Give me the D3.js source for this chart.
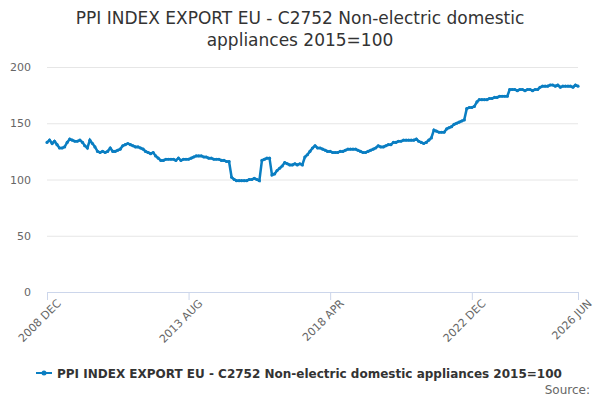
<!DOCTYPE html>
<html><head><meta charset="utf-8">
<script src="https://cdn.jsdelivr.net/npm/d3@7"></script>
<style>body{margin:0;background:#fff;font-family:"DejaVu Sans",sans-serif;}</style>
</head><body><div id="chart"></div>
<script>
// monthly index values, Dec 2008 .. Jun 2026
const startMonth = "2008-12";
const values = [133,
  135,132,134,131,128,128,129,133,136,135,134,134,
  135,133,130,128,135,132,129,125,124,125,124,125,
  128,125,125,126,127,130,131,132,131,130,129,129,
  128,127,125,124,123,124,121,119,117,117,118,118,
  118,118,117,119,117,118,118,118,119,120,121,121,
  121,120,120,119,119,118,118,118,117,117,116,116,
  102,100,99,99,99,99,99,100,100,101,100,99,
  117,118,119,119,104,105,108,110,112,115,114,113,
  113,114,113,114,113,120,122,125,128,130,128,128,
  127,126,125,125,124,124,124,125,125,126,127,127,
  127,127,126,125,124,124,125,126,127,128,130,129,
  129,130,131,131,133,133,134,134,135,135,135,135,
  135,136,134,133,132,133,135,137,144,143,142,142,
  142,145,146,147,149,150,151,152,153,163,164,164,
  165,169,171,171,171,171,172,172,173,173,174,174,
  174,174,180,180,180,179,180,180,179,180,180,179,
  180,180,182,183,183,183,184,184,183,184,182,183,
  183,183,183,182,184,183];
const tickLabels = ["2008 DEC","2013 AUG","2018 APR","2022 DEC","2026 JUN"];
const yTicks = [0,50,100,150,200];
const seriesName = "PPI INDEX EXPORT EU - C2752 Non-electric domestic appliances 2015=100";

const parse = d3.timeParse("%Y-%m");
const t0 = parse(startMonth);
const data = values.map((v,i) => ({date: d3.timeMonth.offset(t0,i), value: v}));
const tickDates = tickLabels.map(s => d3.timeParse("%Y %b")(s.slice(0,6)+s.slice(6).toLowerCase()));

const W = 600, H = 400;
const svg = d3.select("#chart").append("svg").attr("width",W).attr("height",H);
const x = d3.scaleTime().domain([tickDates[0], tickDates[4]]).range([47,578]);
const y = d3.scaleLinear().domain([0,200]).range([292,67]);

svg.append("text").attr("x",300).attr("y",24).attr("text-anchor","middle")
  .attr("font-size",17).attr("fill","#333").text("PPI INDEX EXPORT EU - C2752 Non-electric domestic");
svg.append("text").attr("x",300).attr("y",46).attr("text-anchor","middle")
  .attr("font-size",17).attr("fill","#333").text("appliances 2015=100");

const yAxis = svg.append("g").attr("transform","translate(47,0)")
  .call(d3.axisLeft(y).tickValues(yTicks).tickSize(-531).tickPadding(16));
yAxis.select(".domain").remove();
yAxis.selectAll("line").attr("stroke","#e6e6e6");
yAxis.selectAll("text").attr("font-size",11).attr("fill","#666").attr("font-family","DejaVu Sans");

const xAxis = svg.append("g").attr("transform","translate(0,292)")
  .call(d3.axisBottom(x).tickValues(tickDates).tickFormat((d,i)=>tickLabels[i]).tickSize(8));
xAxis.select(".domain").attr("stroke","#ccd6eb");
xAxis.selectAll("line").attr("stroke","#ccd6eb");
xAxis.selectAll("text").attr("font-size",11).attr("fill","#666").attr("font-family","DejaVu Sans")
  .attr("text-anchor","end").attr("dy","0.3em").attr("transform","translate(4,2) rotate(-45)");

svg.append("path").datum(data).attr("fill","none").attr("stroke","#0a7ec2").attr("stroke-width",2.5)
  .attr("d", d3.line().x(d=>x(d.date)).y(d=>y(d.value)));
svg.append("g").selectAll("circle").data(data).join("circle")
  .attr("cx",d=>x(d.date)).attr("cy",d=>y(d.value)).attr("r",1.6).attr("fill","#0a7ec2");

const lg = svg.append("g").attr("transform","translate(36,373)");
lg.append("line").attr("x1",0).attr("x2",16).attr("stroke","#0a7ec2").attr("stroke-width",2);
lg.append("circle").attr("cx",8).attr("r",2.5).attr("fill","#0a7ec2");
lg.append("text").attr("x",21).attr("y",4.5).attr("font-size",12).attr("font-weight","bold")
  .attr("fill","#333").text(seriesName);
svg.append("text").attr("x",590).attr("y",394).attr("text-anchor","end").attr("font-size",12)
  .attr("fill","#666").text("Source:");
</script></body></html>
